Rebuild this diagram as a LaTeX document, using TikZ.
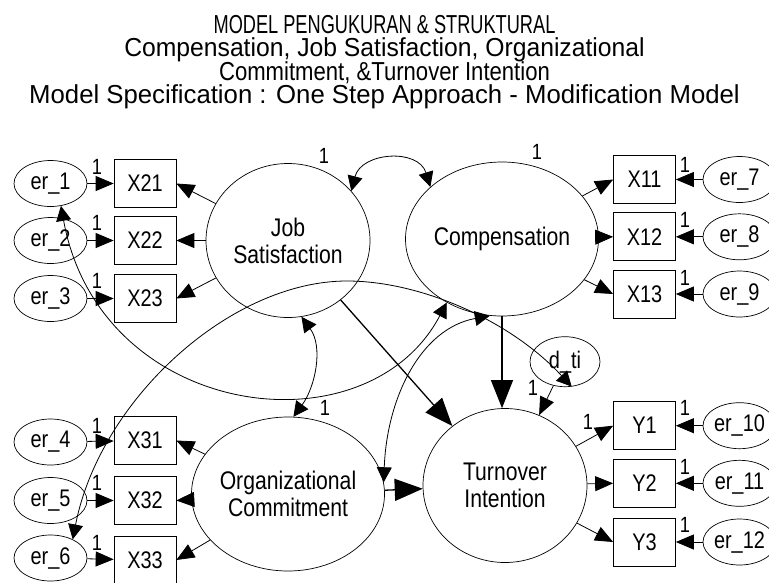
\documentclass[tikz,border=0pt]{standalone}
\usepackage{fontspec}
\usepackage{graphicx}
\setmainfont{Liberation Sans}
\newfontfamily\nodefont[FakeStretch=0.83]{Liberation Sans}
\usetikzlibrary{arrows.meta,shapes.geometric}
\begin{document}
\begin{tikzpicture}[x=1pt,y=-1pt,
  every node/.style={font=\nodefont\fontsize{24}{26.5}\selectfont},
  lat/.style={draw, ellipse, inner sep=0pt, minimum width=164pt, minimum height=154pt, align=center, line width=0.7pt, font=\nodefont\fontsize{25.5}{27}\selectfont},
  obs/.style={draw, rectangle, minimum width=62pt, minimum height=48pt, inner sep=0pt, line width=0.7pt},
  err/.style={draw, ellipse, minimum width=73pt, minimum height=46pt, inner sep=0pt, line width=0.7pt},
  reg/.style={-{Triangle[length=18pt,width=15pt]}, line width=0.8pt},
  bigreg/.style={-{Triangle[length=28pt,width=22pt]}, line width=1.3pt},
  cov/.style={{Triangle[length=15pt,width=15pt]}-{Triangle[length=15pt,width=15pt]}, line width=0.8pt},
  one/.style={font=\nodefont\fontsize{22}{22}\selectfont, inner sep=0pt},
  titlestyle/.style={font=\fontsize{26}{26}\selectfont, inner sep=0pt, anchor=base},
]
\useasboundingbox[fill=white] (0,0) rectangle (769,582);

\node[titlestyle] (t1) at (384.5,33) {\scalebox{0.70}[1]{MODEL PENGUKURAN \& STRUKTURAL}};
\node[titlestyle] (t2) at (384.5,56.5) {\scalebox{0.95}[1]{Compensation, Job Satisfaction, Organizational}};
\node[titlestyle] (t3) at (384.5,80) {\scalebox{0.85}[1]{Commitment, \&Turnover Intention}};
\node[titlestyle] (t4) at (384.5,103.5) {\scalebox{0.99}[1]{Model Specification : One Step Approach - Modification Model}};

% latent variables
\node[lat] (JS) at (288,240.5) {Job\\Satisfaction};
\node[lat] (CO) at (502,239) {Compensation};
\node[lat] (OC) at (288,494) {Organizational\\Commitment};
\node[lat] (TI) at (505,485.5) {Turnover\\Intention};
\node[err, minimum width=70pt, minimum height=50pt] (dti) at (565,361.7) {d\_ti};

% observed left
\node[obs] (X21) at (145,183.5) {X21};
\node[obs] (X22) at (145,240.5) {X22};
\node[obs] (X23) at (145,298.5) {X23};
\node[obs] (X31) at (145,440.5) {X31};
\node[obs] (X32) at (145,500.5) {X32};
\node[obs] (X33) at (145,560) {X33};
% observed right
\node[obs] (X11) at (644.5,179.5) {X11};
\node[obs] (X12) at (644.5,236.8) {X12};
\node[obs] (X13) at (644.5,294) {X13};
\node[obs] (Y1) at (644.5,425.7) {Y1};
\node[obs] (Y2) at (644.5,483.3) {Y2};
\node[obs] (Y3) at (644.5,542) {Y3};

% errors left
\node[err] (e1) at (50.5,183.5) {er\_1};
\node[err] (e2) at (50.5,240.5) {er\_2};
\node[err] (e3) at (50.5,298.5) {er\_3};
\node[err] (e4) at (50.5,442) {er\_4};
\node[err] (e5) at (50.5,500.5) {er\_5};
\node[err] (e6) at (50.5,558) {er\_6};
% errors right
\node[err] (e7) at (739.5,179.5) {er\_7};
\node[err] (e8) at (739.5,236.8) {er\_8};
\node[err] (e9) at (739.5,294) {er\_9};
\node[err] (e10) at (739.5,425.7) {er\_10};
\node[err] (e11) at (739.5,483.3) {er\_11};
\node[err] (e12) at (739.5,542) {er\_12};

% error -> indicator
\foreach \e/\x in {e1/X21,e2/X22,e3/X23,e4/X31,e5/X32,e6/X33,e7/X11,e8/X12,e9/X13,e10/Y1,e11/Y2,e12/Y3}
  \draw[reg] (\e) -- (\x);

% latent -> indicators
\foreach \x in {X21,X22,X23} \draw[reg] (JS) -- (\x.east);
\foreach \x in {X31,X32,X33} \draw[reg] (OC) -- (\x.east);
\foreach \x in {X11,X12,X13} \draw[reg] (CO) -- (\x.west);
\foreach \x in {Y1,Y2,Y3} \draw[reg] (TI) -- (\x.west);

% structural paths
\draw[bigreg] (JS) -- (TI);
\draw[bigreg] (CO.south) -- (CO.south |- TI.north);
\draw[bigreg] (OC) -- (TI);
\draw[reg] (dti) -- (TI);

% covariances
\draw[cov] (JS.38) .. controls +(10,-39) and +(-12,-39) .. (CO.144);
\draw[cov] (JS.-80) .. controls +(22,30) and +(22,-30) .. (OC.86);
\draw[cov] (OC.7) .. controls +(3,-83) and +(-70,13) .. (CO.-99);
\draw[cov] (e1.-65) .. controls +(39,214) and +(-80,152) .. (CO.-131);
\coordinate (peak) at (347,281);
\draw[cov] (e6.40) .. controls (100,400) and (230,281) .. (peak) .. controls (420,281) and (510,320) .. (dti.-75);

% labels "1"
\node[one] at (324,156) {1};
\node[one] at (537,152) {1};
\node[one] at (325,408) {1};
\node[one] at (533,388) {1};
\node[one] at (588,422) {1};
\foreach \y in {167,223,281,426,483,543} \node[one] at (97,\y) {1};
\foreach \y in {165,220,278,408,467,525} \node[one] at (685,\y) {1};
\end{tikzpicture}
\end{document}
